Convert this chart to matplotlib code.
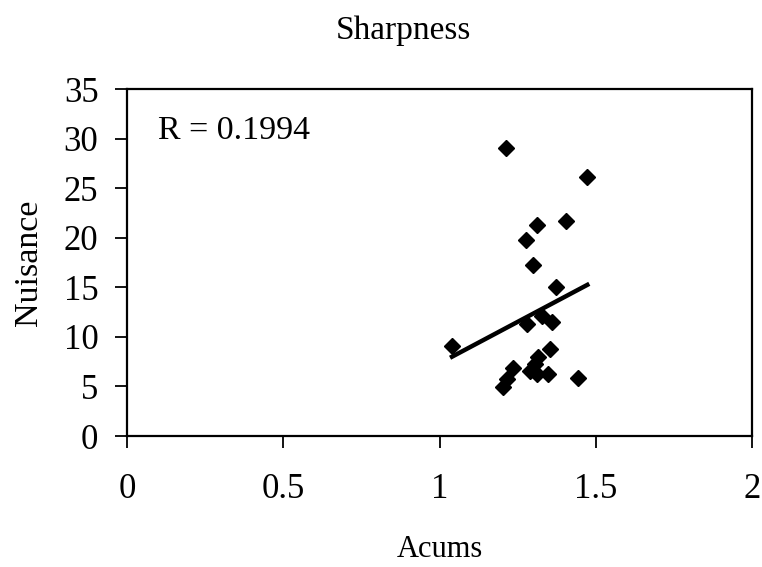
import numpy as np
import matplotlib as mpl
mpl.use('Agg')
import matplotlib.pyplot as plt

# Acums vs Nuisance
acums = [1.213, 1.473, 1.311, 1.404, 1.277, 1.298, 1.373, 1.040,
         1.279, 1.327, 1.359, 1.354, 1.316, 1.306, 1.236, 1.290,
         1.215, 1.204, 1.311, 1.348, 1.444]
nuisance = [29.1, 26.1, 21.3, 21.7, 19.8, 17.25, 15.0, 9.1,
            11.33, 12.07, 11.46, 8.80, 7.99, 7.22, 6.89, 6.55,
            5.72, 4.98, 6.22, 6.22, 5.89]
r_text = 'R = 0.1994'

x = np.array(acums)
y = np.array(nuisance)
slope, icpt = np.polyfit(x, y, 1)
xfit = np.array([x.min(), x.max()])

plt.rcParams['font.family'] = ['Liberation Serif', 'DejaVu Serif']

fig = plt.figure(figsize=(7.62, 5.67), dpi=100)
ax = fig.add_axes([0.1667, 0.2310, 0.8202, 0.6120])
ax.plot(x, y, 'D', color='black', ms=8.5, zorder=3)
ax.plot(xfit, slope * xfit + icpt, color='black', lw=3.2, zorder=2)
ax.set_xlim(0, 2)
ax.set_ylim(0, 35)
ax.set_xticks([0, 0.5, 1, 1.5, 2])
ax.set_xticklabels(['0', '0.5', '1', '1.5', '2'])
ax.set_yticks(range(0, 36, 5))
ax.tick_params(axis='both', direction='out', length=8.6, width=1.3, labelsize=25)
ax.tick_params(axis='x', pad=18)
ax.tick_params(axis='y', pad=12)
for s in ax.spines.values():
    s.set_linewidth(1.6)
ax.text(0.05, 0.856, r_text, transform=ax.transAxes, fontsize=24.5,
        va='baseline')
ax.set_xlabel('Acums', fontsize=22, labelpad=21)
ax.set_ylabel('Nuisance', fontsize=24.5, labelpad=14)
fig.suptitle('Sharpness', fontsize=24, x=0.53, y=0.972, va='top')
fig.savefig('out.png', dpi=100)
